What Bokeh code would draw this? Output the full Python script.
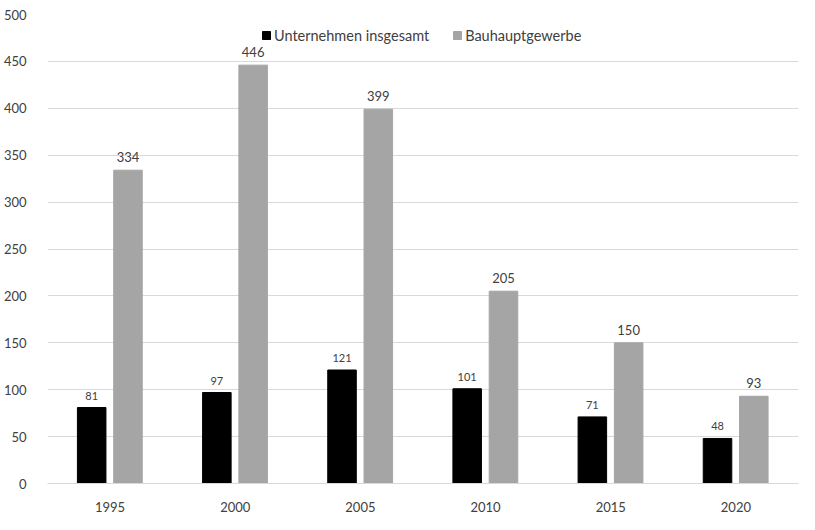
from bokeh.plotting import figure
from bokeh.models import FactorRange, Range1d, ColumnDataSource, Legend, LegendItem, SingleIntervalTicker, LabelSet
from bokeh.transform import dodge
from bokeh.core.properties import value
from bokeh.embed import file_html
from bokeh.resources import INLINE

years = ["1995", "2000", "2005", "2010", "2015", "2020"]
unternehmen = [81, 97, 121, 101, 71, 48]
bauhaupt = [334, 446, 399, 205, 150, 93]
series_names = ["Unternehmen insgesamt", "Bauhauptgewerbe"]

src = ColumnDataSource(dict(
    x=years, u=unternehmen, b=bauhaupt,
    ul=[str(v) for v in unternehmen], bl=[str(v) for v in bauhaupt],
))

FONT = "Lato"

p = figure(width=799, height=514, x_range=FactorRange(*years, range_padding=0),
           y_range=Range1d(0, 500), output_backend="svg", toolbar_location=None)
p.min_border_left = 42
p.min_border_right = 1
p.min_border_top = 14
p.min_border_bottom = 27
p.outline_line_color = None
p.background_fill_color = "white"
p.border_fill_color = "white"

r1 = p.vbar(x=dodge("x", -0.147, range=p.x_range), top="u", width=0.228, source=src,
            fill_color="#000000", line_color="#000000")
r2 = p.vbar(x=dodge("x", 0.143, range=p.x_range), top="b", width=0.228, source=src,
            fill_color="#a5a5a5", line_color="#a5a5a5")

p.add_layout(LabelSet(x=dodge("x", -0.147, range=p.x_range), y="u", text="ul", source=src,
                      text_font=value(FONT), text_font_size="11px", text_color="#404040",
                      text_align="center", text_baseline="bottom", y_offset=8))
p.add_layout(LabelSet(x=dodge("x", 0.143, range=p.x_range), y="b", text="bl", source=src,
                      text_font=value(FONT), text_font_size="13px", text_color="#404040",
                      text_align="center", text_baseline="bottom", y_offset=8))

p.yaxis.ticker = SingleIntervalTicker(interval=50)
p.ygrid.grid_line_color = "#d9d9d9"
p.xgrid.grid_line_color = None
for ax in (p.xaxis, p.yaxis):
    ax.axis_line_color = None
    ax.major_tick_line_color = None
    ax.minor_tick_line_color = None
    ax.major_label_text_font = FONT
    ax.major_label_text_font_size = "13px"
    ax.major_label_text_color = "#404040"
p.yaxis.major_label_standoff = 15
p.xaxis.major_label_standoff = 12
p.xaxis.axis_line_color = "#d9d9d9"

legend = Legend(items=[LegendItem(label=series_names[0], renderers=[r1]),
                       LegendItem(label=series_names[1], renderers=[r2])],
                orientation="horizontal", location=(214, 438),
                glyph_width=10, glyph_height=10, label_standoff=3, spacing=23,
                padding=0, margin=0, label_height=20,
                label_text_font=FONT, label_text_font_size="14.5px", label_text_color="#404040",
                border_line_color=None, background_fill_alpha=0)
p.add_layout(legend)

open("out.html", "w").write(file_html(p, INLINE))
